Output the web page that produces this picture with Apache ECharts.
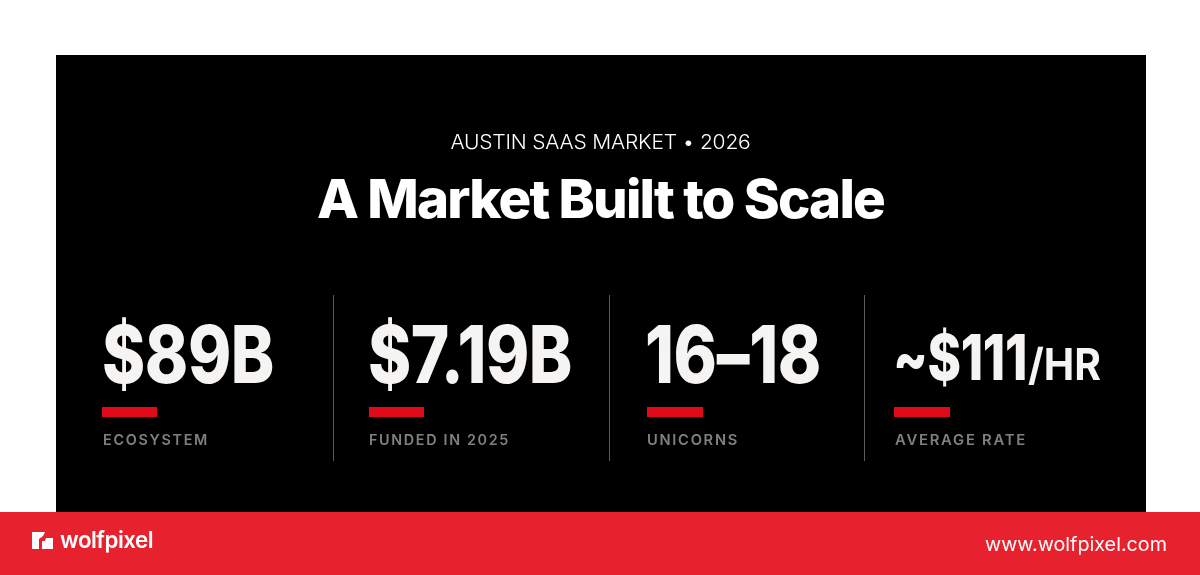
<!DOCTYPE html>
<html><head><meta charset="utf-8">
<style>html,body{margin:0;padding:0;background:#fff}#c{width:1200px;height:575px}</style>
<script src="https://cdn.jsdelivr.net/npm/echarts@6/dist/echarts.min.js"></script>
</head><body><div id="c"></div>
<script>
const eyebrow = 'AUSTIN SAAS MARKET • 2026';
const headline = 'A Market Built to Scale';
const statValues = ['$89B', '$7.19B', '16–18', '~$111'];
const statSuffixes = ['', '', '', '/HR'];
const statLabels = ['ECOSYSTEM', 'FUNDED IN 2025', 'UNICORNS', 'AVERAGE RATE'];
const brand = 'wolfpixel';
const site = 'www.wolfpixel.com';

const FONT = 'Inter, "Liberation Sans", sans-serif';
const layout = [
  {x:102, vw:172, vs:80, vy:358, bar:102, bw:55, lx:103, lw:106},
  {x:368, vw:204, vs:80, vy:358, bar:369, bw:55, lx:369, lw:141},
  {x:645, vw:176, vs:80, vy:358, bar:647, bw:56, lx:647, lw:92},
  {x:893, vw:134, vs:63, vy:360, bar:894, bw:56, lx:895, lw:132, sx:1028, sw:73, ss:44}
];
const dividers = [333, 609, 864];

// Per-string tracking: zrender has no letter-spacing option, so it is applied at draw time.
const tracking = {};
const nativeFill = CanvasRenderingContext2D.prototype.fillText;
CanvasRenderingContext2D.prototype.fillText = function (t, x, y, m) {
  this.letterSpacing = (tracking[t] || 0) + 'px';
  return m === undefined ? nativeFill.call(this, t, x, y) : nativeFill.call(this, t, x, y, m);
};
const mc = document.createElement('canvas').getContext('2d');
function T(text, x, y, size, weight, fill, width, align, track) {
  tracking[text] = track || 0;
  mc.font = weight + ' ' + size + 'px ' + FONT;
  mc.letterSpacing = (track || 0) + 'px';
  const sx = width ? width / mc.measureText(text).width : 1;
  return {type:'text', x:x, y:y, scaleX:sx, silent:true,
    style:{text:text, x:0, y:0, fill:fill, font:weight+' '+size+'px '+FONT,
      textAlign:align||'left', textVerticalAlign:'middle'}};
}
const R = (x,y,w,h,fill)=>({type:'rect', silent:true, shape:{x,y,width:w,height:h}, style:{fill}});
const els = [
  R(56,55,1090,457,'#000'),
  R(0,512,1200,63,'#e7222e'),
  T(eyebrow, 600.5, 143, 20, 300, '#ffffff', 300, 'center', -0.2),
  T(headline, 600.5, 202, 54, 800, '#fff', 567, 'center', -1.8)
];
dividers.forEach(x=>els.push(R(x,295,1,166,'#5a5a5a')));
statValues.forEach((v,i)=>{
  const l = layout[i];
  els.push(T(v, l.x, l.vy+1, l.vs, 800, '#f5f4f2', l.vw, 'left', -0.5));
  if (statSuffixes[i]) els.push(T(statSuffixes[i], l.sx, 367, l.ss, 700, '#f5f4f2', l.sw));
  els.push(R(l.bar,407,l.bw,10,'#e10a19'));
  els.push(T(statLabels[i], l.lx, 441, 14.5, 600, '#808080', l.lw, 'left', 1.7));
});
els.push({type:'polygon', silent:true, shape:{points:[[32,532],[45,532],[43,536],[39,539],[39,549],[32,549]]}, style:{fill:'#fff'}});
els.push({type:'polygon', silent:true, shape:{points:[[42,549],[42,541],[45,541],[46,538],[53,538],[53,549]]}, style:{fill:'#fff'}});
els.push(T(brand, 60, 541, 23, 600, '#fff', 93, 'left', -0.5));
els.push(T(site, 985, 545, 19, 400, '#fff', 182));

const chart = echarts.init(document.getElementById('c'), null, {renderer:'canvas'});
chart.setOption({animation:false, backgroundColor:'#fff', graphic:{elements:els}});
</script></body></html>
